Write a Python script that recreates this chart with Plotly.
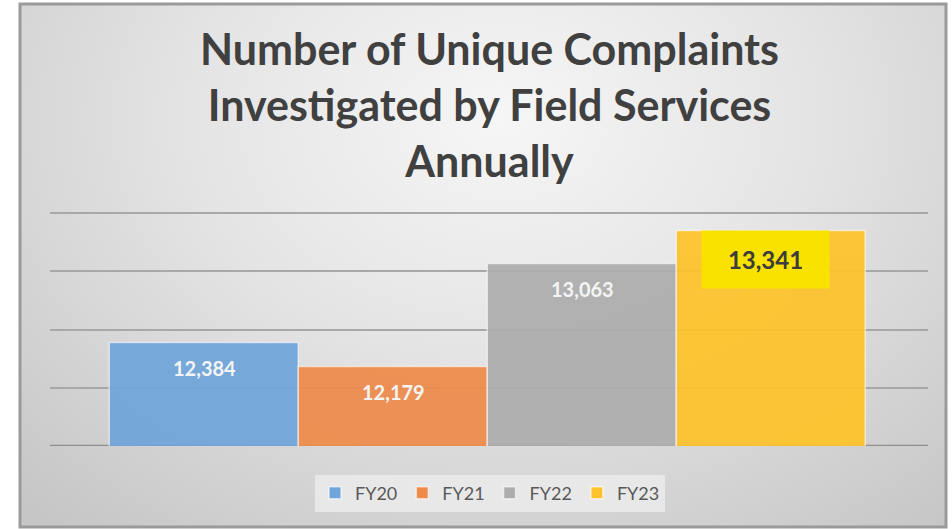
import base64
import plotly.graph_objects as go

categories = ["FY20", "FY21", "FY22", "FY23"]
values = [12384, 12179, 13063, 13341]
colors = ["#6fa5da", "#ee8b4b", "#adadad", "#fec32a"]
label_text = ["12,384", "12,179", "13,063", "13,341"]
grid_vals = [12000, 12500, 13000, 13500]
title_text = "Number of Unique Complaints<br>Investigated by Field Services<br>Annually"

W, H = 952, 529

svg = f'''<svg xmlns="http://www.w3.org/2000/svg" width="{W}" height="{H}" viewBox="0 0 {W} {H}">
<defs>
<radialGradient id="g" cx="0.52" cy="0.22" r="0.75" gradientTransform="translate(0.52,0.22) scale(1,1.35) translate(-0.52,-0.22)">
<stop offset="0" stop-color="#f6f6f6"/>
<stop offset="0.45" stop-color="#e4e4e4"/>
<stop offset="1" stop-color="#c6c6c6"/>
</radialGradient>
</defs>
<rect x="0" y="0" width="{W}" height="{H}" fill="#ffffff"/>
<rect x="20" y="4" width="926" height="523" fill="url(#g)" stroke="#9a9a9a" stroke-width="3"/>
</svg>'''
src = "data:image/svg+xml;base64," + base64.b64encode(svg.encode()).decode()

fig = go.Figure()
for c, v, col in zip(categories, values, colors):
    fig.add_trace(go.Bar(
        x=[c], y=[v], name=c,
        marker=dict(color=col, opacity=0.93, line=dict(color="rgba(255,255,255,0.6)", width=1.5)),
        hoverinfo="skip",
    ))

for i, (c, v, t) in enumerate(zip(categories, values, label_text)):
    if i < 3:
        fig.add_annotation(x=c, y=v, text=f"<b>{t}</b>", showarrow=False,
                           yanchor="middle", yshift=-25,
                           font=dict(family="Lato", size=20, color="#f4f4f4"))
    else:
        fig.add_annotation(x=c, y=v, text=f"<b>{t}</b>", showarrow=False,
                           yanchor="middle", yshift=-28, xshift=-6,
                           width=125, height=55, bgcolor="#f9e100",
                           font=dict(family="Lato", size=24, color="#3c3c3c"))

fig.add_annotation(xref="paper", yref="paper", x=490 / W, y=(H - 104) / H,
                   xanchor="center", yanchor="middle", showarrow=False,
                   text=f"<b>{title_text}</b>",
                   font=dict(family="Lato", size=43, color="#404040"))

fig.update_layout(
    width=W, height=H,
    margin=dict(l=0, r=0, t=0, b=0),
    paper_bgcolor="#ffffff",
    plot_bgcolor="rgba(0,0,0,0)",
    images=[dict(source=src, xref="paper", yref="paper", x=0, y=1,
                 sizex=1, sizey=1, sizing="stretch", layer="below",
                 xanchor="left", yanchor="top")],
    barmode="overlay",
    bargap=0,
    showlegend=True,
    legend=dict(orientation="h", x=490 / W, xanchor="center", y=(H - 493) / H, yanchor="middle",
                bgcolor="#e8e8e8", font=dict(family="Lato", size=18, color="#595959"),
                itemclick=False),
    xaxis=dict(domain=[50 / W, 928 / W], range=[-0.817, 3.828],
               showticklabels=False, showgrid=False, zeroline=False, fixedrange=True),
    yaxis=dict(domain=[(H - 446) / H, (H - 207.2) / H], range=[11500, 13550],
               tickvals=grid_vals, showticklabels=False, showgrid=True,
               gridcolor="#a8a8a8", gridwidth=1.5, zeroline=False,
               showline=False, fixedrange=True),
)
fig.add_shape(type="line", xref="paper", yref="y", x0=50 / W, x1=928 / W,
              y0=11500, y1=11500, line=dict(color="#8e8e8e", width=2.5), layer="below")

fig.write_html("out.html", config={"displayModeBar": False},
               post_script="document.body.style.margin='0';")
